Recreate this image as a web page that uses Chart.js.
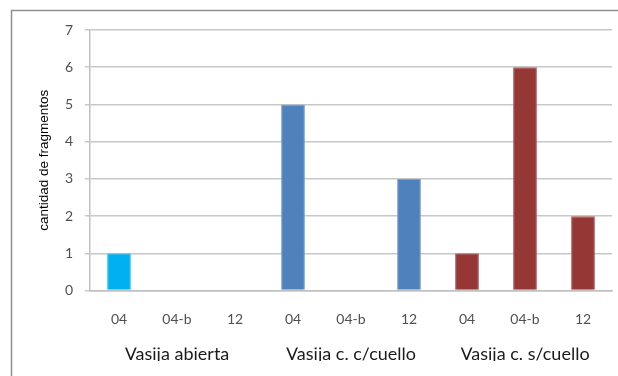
<!DOCTYPE html>
<html>
<head>
<meta charset="utf-8">
<script src="https://cdn.jsdelivr.net/npm/chart.js@4"></script>
<style>
  html, body { margin: 0; padding: 0; background: #ffffff; }
  #wrap { width: 618px; height: 376px; }
</style>
</head>
<body>
<div id="wrap"><canvas id="c" width="618" height="376"></canvas></div>
<script>
// Fragment counts per vessel type and context
const groups = ['Vasija abierta', 'Vasija c. c/cuello', 'Vasija c. s/cuello'];
const contexts = ['04', '04-b', '12'];
const counts = [
  1, 0, 0,   // Vasija abierta
  5, 0, 3,   // Vasija c. c/cuello
  1, 6, 2    // Vasija c. s/cuello
];
const yTicks = [0, 1, 2, 3, 4, 5, 6, 7];

// One colour per vessel type
const groupFill = ['#00b0f0', '#4f81bd', '#953735'];
const groupEdge = ['#40c4f4', '#7aa0cf', '#b05a58'];

const labels = [];
const groupRow = [];
const fills = [];
const edges = [];
groups.forEach((g, gi) => {
  contexts.forEach((c, ci) => {
    labels.push(c);
    groupRow.push(ci === 1 ? g : '');
    fills.push(groupFill[gi]);
    edges.push(groupEdge[gi]);
  });
});

// Outer frame around the chart
const framePlugin = {
  id: 'frame',
  beforeDraw(chart) {
    const ctx = chart.ctx;
    ctx.save();
    ctx.fillStyle = '#ffffff';
    ctx.fillRect(0, 0, chart.width, chart.height);
    ctx.strokeStyle = '#8f8f8f';
    ctx.lineWidth = 1.5;
    ctx.strokeRect(11.5, 10.5, 640, 400);
    ctx.restore();
  }
};

new Chart(document.getElementById('c'), {
  type: 'bar',
  data: {
    labels: labels,
    datasets: [{
      data: counts,
      backgroundColor: fills,
      borderColor: edges,
      borderWidth: 1,
      barPercentage: 0.82,
      categoryPercentage: 0.5
    }]
  },
  plugins: [framePlugin],
  options: {
    responsive: false,
    animation: false,
    devicePixelRatio: 1,
    layout: { padding: { left: 36, right: 6, top: 30, bottom: 15 } },
    plugins: {
      legend: { display: false },
      tooltip: { enabled: false }
    },
    scales: {
      x: {
        position: 'bottom',
        grid: { display: false, drawTicks: false },
        border: { display: true, color: '#c0c0c0', width: 1.5 },
        ticks: {
          color: '#505050',
          font: { family: 'Lato, sans-serif', size: 14 },
          padding: 20,
          maxRotation: 0,
          autoSkip: false
        }
      },
      x2: {
        type: 'category',
        position: 'bottom',
        labels: groupRow,
        offset: true,
        grid: { display: false, drawTicks: false },
        border: { display: false },
        ticks: {
          color: '#1a1a1a',
          font: { family: 'Lato, sans-serif', size: 18 },
          padding: -4,
          maxRotation: 0,
          autoSkip: false
        }
      },
      y: {
        min: 0,
        max: 7,
        afterBuildTicks(scale) {
          scale.ticks = yTicks.map(v => ({ value: v }));
        },
        afterFit(scale) { scale.width = 54; },
        grid: {
          color: '#c8c8c8',
          lineWidth: 1.5,
          tickLength: 5,
          drawTicks: true
        },
        border: { display: true, color: '#c0c0c0', width: 1.5 },
        ticks: {
          color: '#505050',
          font: { family: 'Lato, sans-serif', size: 14 },
          padding: 12
        },
        title: {
          display: true,
          text: 'cantidad de fragmentos',
          color: '#000000',
          font: { family: 'Liberation Sans, Arial, sans-serif', size: 13.5 },
          padding: { top: 0, bottom: 4 }
        }
      }
    }
  }
});
</script>
</body>
</html>
